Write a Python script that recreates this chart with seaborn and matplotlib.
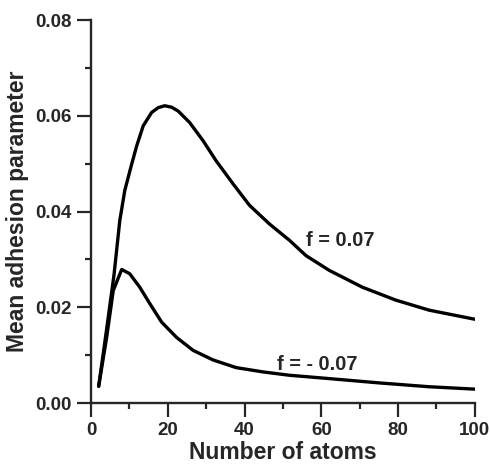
import pandas as pd
import matplotlib
matplotlib.use("Agg")
import matplotlib.pyplot as plt
from matplotlib.ticker import MultipleLocator, FormatStrFormatter
import seaborn as sns

# values
atoms_pos = [2, 4, 6, 7.5, 8.8, 10.6, 11.9, 13.6, 15.8, 17.5, 19.2, 21.0, 22.7, 25.7, 29.2, 32.6, 37.0,
             41.3, 46.5, 51.7, 56.0, 62.1, 70.7, 79.4, 88.1, 100]
adh_pos = [0.0035, 0.0150, 0.0268, 0.0381, 0.0444, 0.0499, 0.0537, 0.0579, 0.0607, 0.0617, 0.0621,
           0.0618, 0.0610, 0.0586, 0.0548, 0.0506, 0.0458, 0.0413, 0.0374, 0.0340, 0.0308, 0.0277,
           0.0242, 0.0215, 0.0194, 0.0175]

atoms_neg = [2, 4.1, 5.8, 8.0, 10.1, 12.7, 15.3, 18.4, 22.3, 26.6, 31.8, 37.8, 44.8, 51.7, 62.1,
             75.1, 88.1, 100]
adh_neg = [0.0035, 0.0138, 0.0235, 0.0279, 0.0270, 0.0242, 0.0208, 0.0169, 0.0137, 0.0110, 0.0090,
           0.0074, 0.0065, 0.0058, 0.0051, 0.0042, 0.0034, 0.0029]

labels = ["f = 0.07", "f = - 0.07"]

df = pd.concat([
    pd.DataFrame({"Number of atoms": atoms_pos, "Mean adhesion parameter": adh_pos, "f": labels[0]}),
    pd.DataFrame({"Number of atoms": atoms_neg, "Mean adhesion parameter": adh_neg, "f": labels[1]}),
])

sns.set_style("ticks")
plt.rcParams["font.family"] = ["Liberation Sans", "DejaVu Sans"]
plt.rcParams["font.weight"] = "bold"

fig = plt.figure(figsize=(4.9, 4.67), dpi=100)
ax = fig.add_axes([0.1857, 0.137, 0.7833, 0.82])

sns.lineplot(data=df, x="Number of atoms", y="Mean adhesion parameter", units="f", estimator=None,
             color="black", linewidth=2.4, ax=ax, sort=False,
             solid_joinstyle="round", solid_capstyle="round")

ax.set_xlim(0, 100)
ax.set_ylim(0, 0.08)
ax.xaxis.set_major_locator(MultipleLocator(20))
ax.xaxis.set_minor_locator(MultipleLocator(10))
ax.yaxis.set_major_locator(MultipleLocator(0.02))
ax.yaxis.set_minor_locator(MultipleLocator(0.01))
ax.yaxis.set_major_formatter(FormatStrFormatter("%.2f"))
ax.tick_params(which="major", length=10, width=1.6, labelsize=13.5, direction="out", pad=4)
ax.tick_params(which="minor", length=4.5, width=1.6, direction="out")
for lab in ax.get_xticklabels() + ax.get_yticklabels():
    lab.set_fontweight("bold")

sns.despine(ax=ax)
for s in ["left", "bottom"]:
    ax.spines[s].set_linewidth(1.7)

ax.set_xlabel("Number of atoms", fontsize=16.5, fontweight="bold", labelpad=1)
ax.set_ylabel("Mean adhesion parameter", fontsize=16.5, fontweight="bold", labelpad=4)

ax.text(56.0, 0.0329, labels[0], fontsize=14.3, fontweight="bold", va="baseline", ha="left")
ax.text(48.5, 0.0069, labels[1], fontsize=14.3, fontweight="bold", va="baseline", ha="left")

fig.savefig("out.png", dpi=100)
